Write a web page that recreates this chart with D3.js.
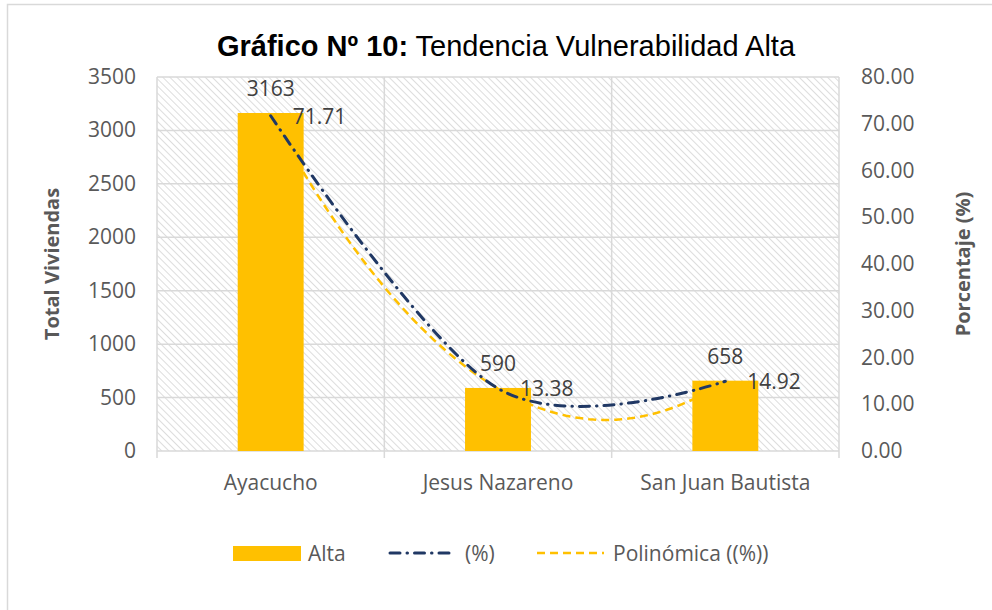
<!DOCTYPE html>
<html>
<head>
<meta charset="utf-8">
<script src="https://cdn.jsdelivr.net/npm/d3@7"></script>
<style>
  body { margin: 0; background: #fff; }
  svg { display: block; }
  text { font-family: "Open Sans", "Noto Sans", sans-serif; fill: #595959; }
</style>
</head>
<body>
<div id="container"></div>
<script>
var categories = ['Ayacucho', 'Jesus Nazareno', 'San Juan Bautista'];
var totals = [3163, 590, 658];
var percents = [71.71, 13.38, 14.92];
var leftTicks = [0, 500, 1000, 1500, 2000, 2500, 3000, 3500];
var rightTicks = [0, 10, 20, 30, 40, 50, 60, 70, 80];

var width = 992;
var height = 610;
var plot = {left: 157, right: 839, top: 77, bottom: 451};
var fs = '21px';

var svg = d3.select('#container')
	.append('svg')
	.attr('width', width)
	.attr('height', height);

// hatch pattern for the plot area
var defs = svg.append('defs');
var pat = defs.append('pattern')
	.attr('id', 'hatch')
	.attr('patternUnits', 'userSpaceOnUse')
	.attr('width', 5)
	.attr('height', 5)
	.attr('patternTransform', 'rotate(-45)');
pat.append('rect').attr('width', 5).attr('height', 5).attr('fill', '#fff');
pat.append('line')
	.attr('x1', 0).attr('y1', 0).attr('x2', 0).attr('y2', 5)
	.attr('stroke', '#cfcfcf')
	.attr('stroke-width', 1.4);

// outer chart border
svg.append('rect')
	.attr('x', 7.5).attr('y', 4.5)
	.attr('width', 1000).attr('height', 700)
	.attr('fill', 'none')
	.attr('stroke', '#d9d9d9')
	.attr('stroke-width', 1.5);

var x = d3.scaleBand()
	.domain(categories)
	.range([plot.left, plot.right])
	.padding(0);

var yLeft = d3.scaleLinear().domain([0, 3500]).range([plot.bottom, plot.top]);
var yRight = d3.scaleLinear().domain([0, 80]).range([plot.bottom, plot.top]);

svg.append('rect')
	.attr('x', plot.left).attr('y', plot.top)
	.attr('width', plot.right - plot.left)
	.attr('height', plot.bottom - plot.top)
	.attr('fill', 'url(#hatch)');

// gridlines
svg.append('g')
	.selectAll('line')
	.data(leftTicks)
	.enter()
	.append('line')
	.attr('x1', plot.left).attr('x2', plot.right)
	.attr('y1', (d) => yLeft(d)).attr('y2', (d) => yLeft(d))
	.attr('stroke', '#d9d9d9')
	.attr('stroke-width', 1.5);

var bounds = categories.map((c) => x(c)).concat([plot.right]);
svg.append('g')
	.selectAll('line')
	.data(bounds)
	.enter()
	.append('line')
	.attr('x1', (d) => d).attr('x2', (d) => d)
	.attr('y1', plot.top).attr('y2', plot.bottom + 7)
	.attr('stroke', '#d9d9d9')
	.attr('stroke-width', 1.5);

// bars
var barW = x.bandwidth() * 0.29;
svg.append('g')
	.selectAll('rect')
	.data(totals)
	.enter()
	.append('rect')
	.attr('x', (d, i) => x(categories[i]) + x.bandwidth() / 2 - barW / 2)
	.attr('y', (d) => yLeft(d))
	.attr('width', barW)
	.attr('height', (d) => yLeft(0) - yLeft(d))
	.attr('fill', '#ffc000');

// polynomial trendline (order 2, least squares)
function polyFit(xs, ys) {
	var s = [0, 0, 0, 0, 0], t = [0, 0, 0];
	xs.forEach((xv, i) => {
		for (var k = 0; k < 5; k++) s[k] += Math.pow(xv, k);
		for (var k2 = 0; k2 < 3; k2++) t[k2] += ys[i] * Math.pow(xv, k2);
	});
	var A = [[s[0], s[1], s[2], t[0]], [s[1], s[2], s[3], t[1]], [s[2], s[3], s[4], t[2]]];
	for (var c = 0; c < 3; c++) {
		for (var r = c + 1; r < 3; r++) {
			var f = A[r][c] / A[c][c];
			for (var k3 = c; k3 < 4; k3++) A[r][k3] -= f * A[c][k3];
		}
	}
	var coef = [0, 0, 0];
	for (var r2 = 2; r2 >= 0; r2--) {
		var v = A[r2][3];
		for (var k4 = r2 + 1; k4 < 3; k4++) v -= A[r2][k4] * coef[k4];
		coef[r2] = v / A[r2][r2];
	}
	return (xv) => coef[0] + coef[1] * xv + coef[2] * xv * xv;
}
var idx = percents.map((d, i) => i + 1);
var poly = polyFit(idx, percents);
var xi = d3.scaleLinear()
	.domain([1, categories.length])
	.range([x(categories[0]) + x.bandwidth() / 2, x(categories[categories.length - 1]) + x.bandwidth() / 2]);
var trend = d3.range(1, categories.length + 0.001, 0.02);

svg.append('path')
	.datum(trend)
	.attr('d', d3.line().x((d) => xi(d)).y((d) => yRight(poly(d))))
	.attr('fill', 'none')
	.attr('stroke', '#ffc000')
	.attr('stroke-width', 2.5)
	.attr('stroke-dasharray', '8,5');

// percent line, smoothed
svg.append('path')
	.datum(percents)
	.attr('d', d3.line()
		.x((d, i) => xi(i + 1))
		.y((d) => yRight(d))
		.curve(d3.curveCardinal.tension(0)))
	.attr('fill', 'none')
	.attr('stroke', '#203864')
	.attr('stroke-width', 3)
	.attr('stroke-linecap', 'round')
	.attr('stroke-dasharray', '10,7,0.5,7');

// data labels
svg.append('g')
	.selectAll('text')
	.data(totals)
	.enter()
	.append('text')
	.attr('x', (d, i) => xi(i + 1))
	.attr('y', (d) => yLeft(d) - 17)
	.attr('text-anchor', 'middle')
	.style('font-size', fs)
	.style('fill', '#404040')
	.text((d) => d);

svg.append('g')
	.selectAll('text')
	.data(percents)
	.enter()
	.append('text')
	.attr('x', (d, i) => xi(i + 1) + 22)
	.attr('y', (d) => yRight(d) + 8)
	.style('font-size', fs)
	.style('fill', '#404040')
	.text((d) => d.toFixed(2));

// axes tick labels
svg.append('g')
	.selectAll('text')
	.data(leftTicks)
	.enter()
	.append('text')
	.attr('x', 136)
	.attr('y', (d) => yLeft(d) + 7)
	.attr('text-anchor', 'end')
	.style('font-size', fs)
	.text((d) => d);

svg.append('g')
	.selectAll('text')
	.data(rightTicks)
	.enter()
	.append('text')
	.attr('x', 861)
	.attr('y', (d) => yRight(d) + 7)
	.style('font-size', fs)
	.text((d) => d.toFixed(2));

svg.append('g')
	.selectAll('text')
	.data(categories)
	.enter()
	.append('text')
	.attr('x', (d) => x(d) + x.bandwidth() / 2)
	.attr('y', 490)
	.attr('text-anchor', 'middle')
	.style('font-size', fs)
	.text((d) => d);

// axis titles
svg.append('text')
	.attr('transform', 'translate(59,264) rotate(-90)')
	.attr('text-anchor', 'middle')
	.style('font-size', '20px')
	.style('font-weight', 'bold')
	.text('Total Viviendas');

svg.append('text')
	.attr('transform', 'translate(970,264) rotate(-90)')
	.attr('text-anchor', 'middle')
	.style('font-size', '20px')
	.style('font-weight', 'bold')
	.text('Porcentaje (%)');

// title
var title = svg.append('text')
	.attr('x', 506)
	.attr('y', 56)
	.attr('text-anchor', 'middle')
	.style('font-family', '"Liberation Sans", Arial, sans-serif')
	.style('font-size', '29px')
	.style('fill', '#000');
title.append('tspan').style('font-weight', 'bold').style('fill', '#000').text('Gráfico Nº 10:');
title.append('tspan').style('fill', '#000').text(' Tendencia Vulnerabilidad Alta');

// legend
var lg = svg.append('g');
lg.append('rect').attr('x', 233).attr('y', 546).attr('width', 68).attr('height', 15).attr('fill', '#ffc000');
lg.append('text').attr('x', 308).attr('y', 561).style('font-size', fs).text('Alta');
lg.append('line')
	.attr('x1', 390).attr('x2', 452).attr('y1', 553).attr('y2', 553)
	.attr('stroke', '#203864').attr('stroke-width', 3)
	.attr('stroke-linecap', 'round')
	.attr('stroke-dasharray', '10,7,0.5,7');
lg.append('text').attr('x', 465).attr('y', 561).style('font-size', fs).text('(%)');
lg.append('line')
	.attr('x1', 537).attr('x2', 604).attr('y1', 553).attr('y2', 553)
	.attr('stroke', '#ffc000').attr('stroke-width', 2.5)
	.attr('stroke-dasharray', '8,5');
lg.append('text').attr('x', 613).attr('y', 561).style('font-size', fs).text('Polinómica ((%))');
</script>
</body>
</html>
